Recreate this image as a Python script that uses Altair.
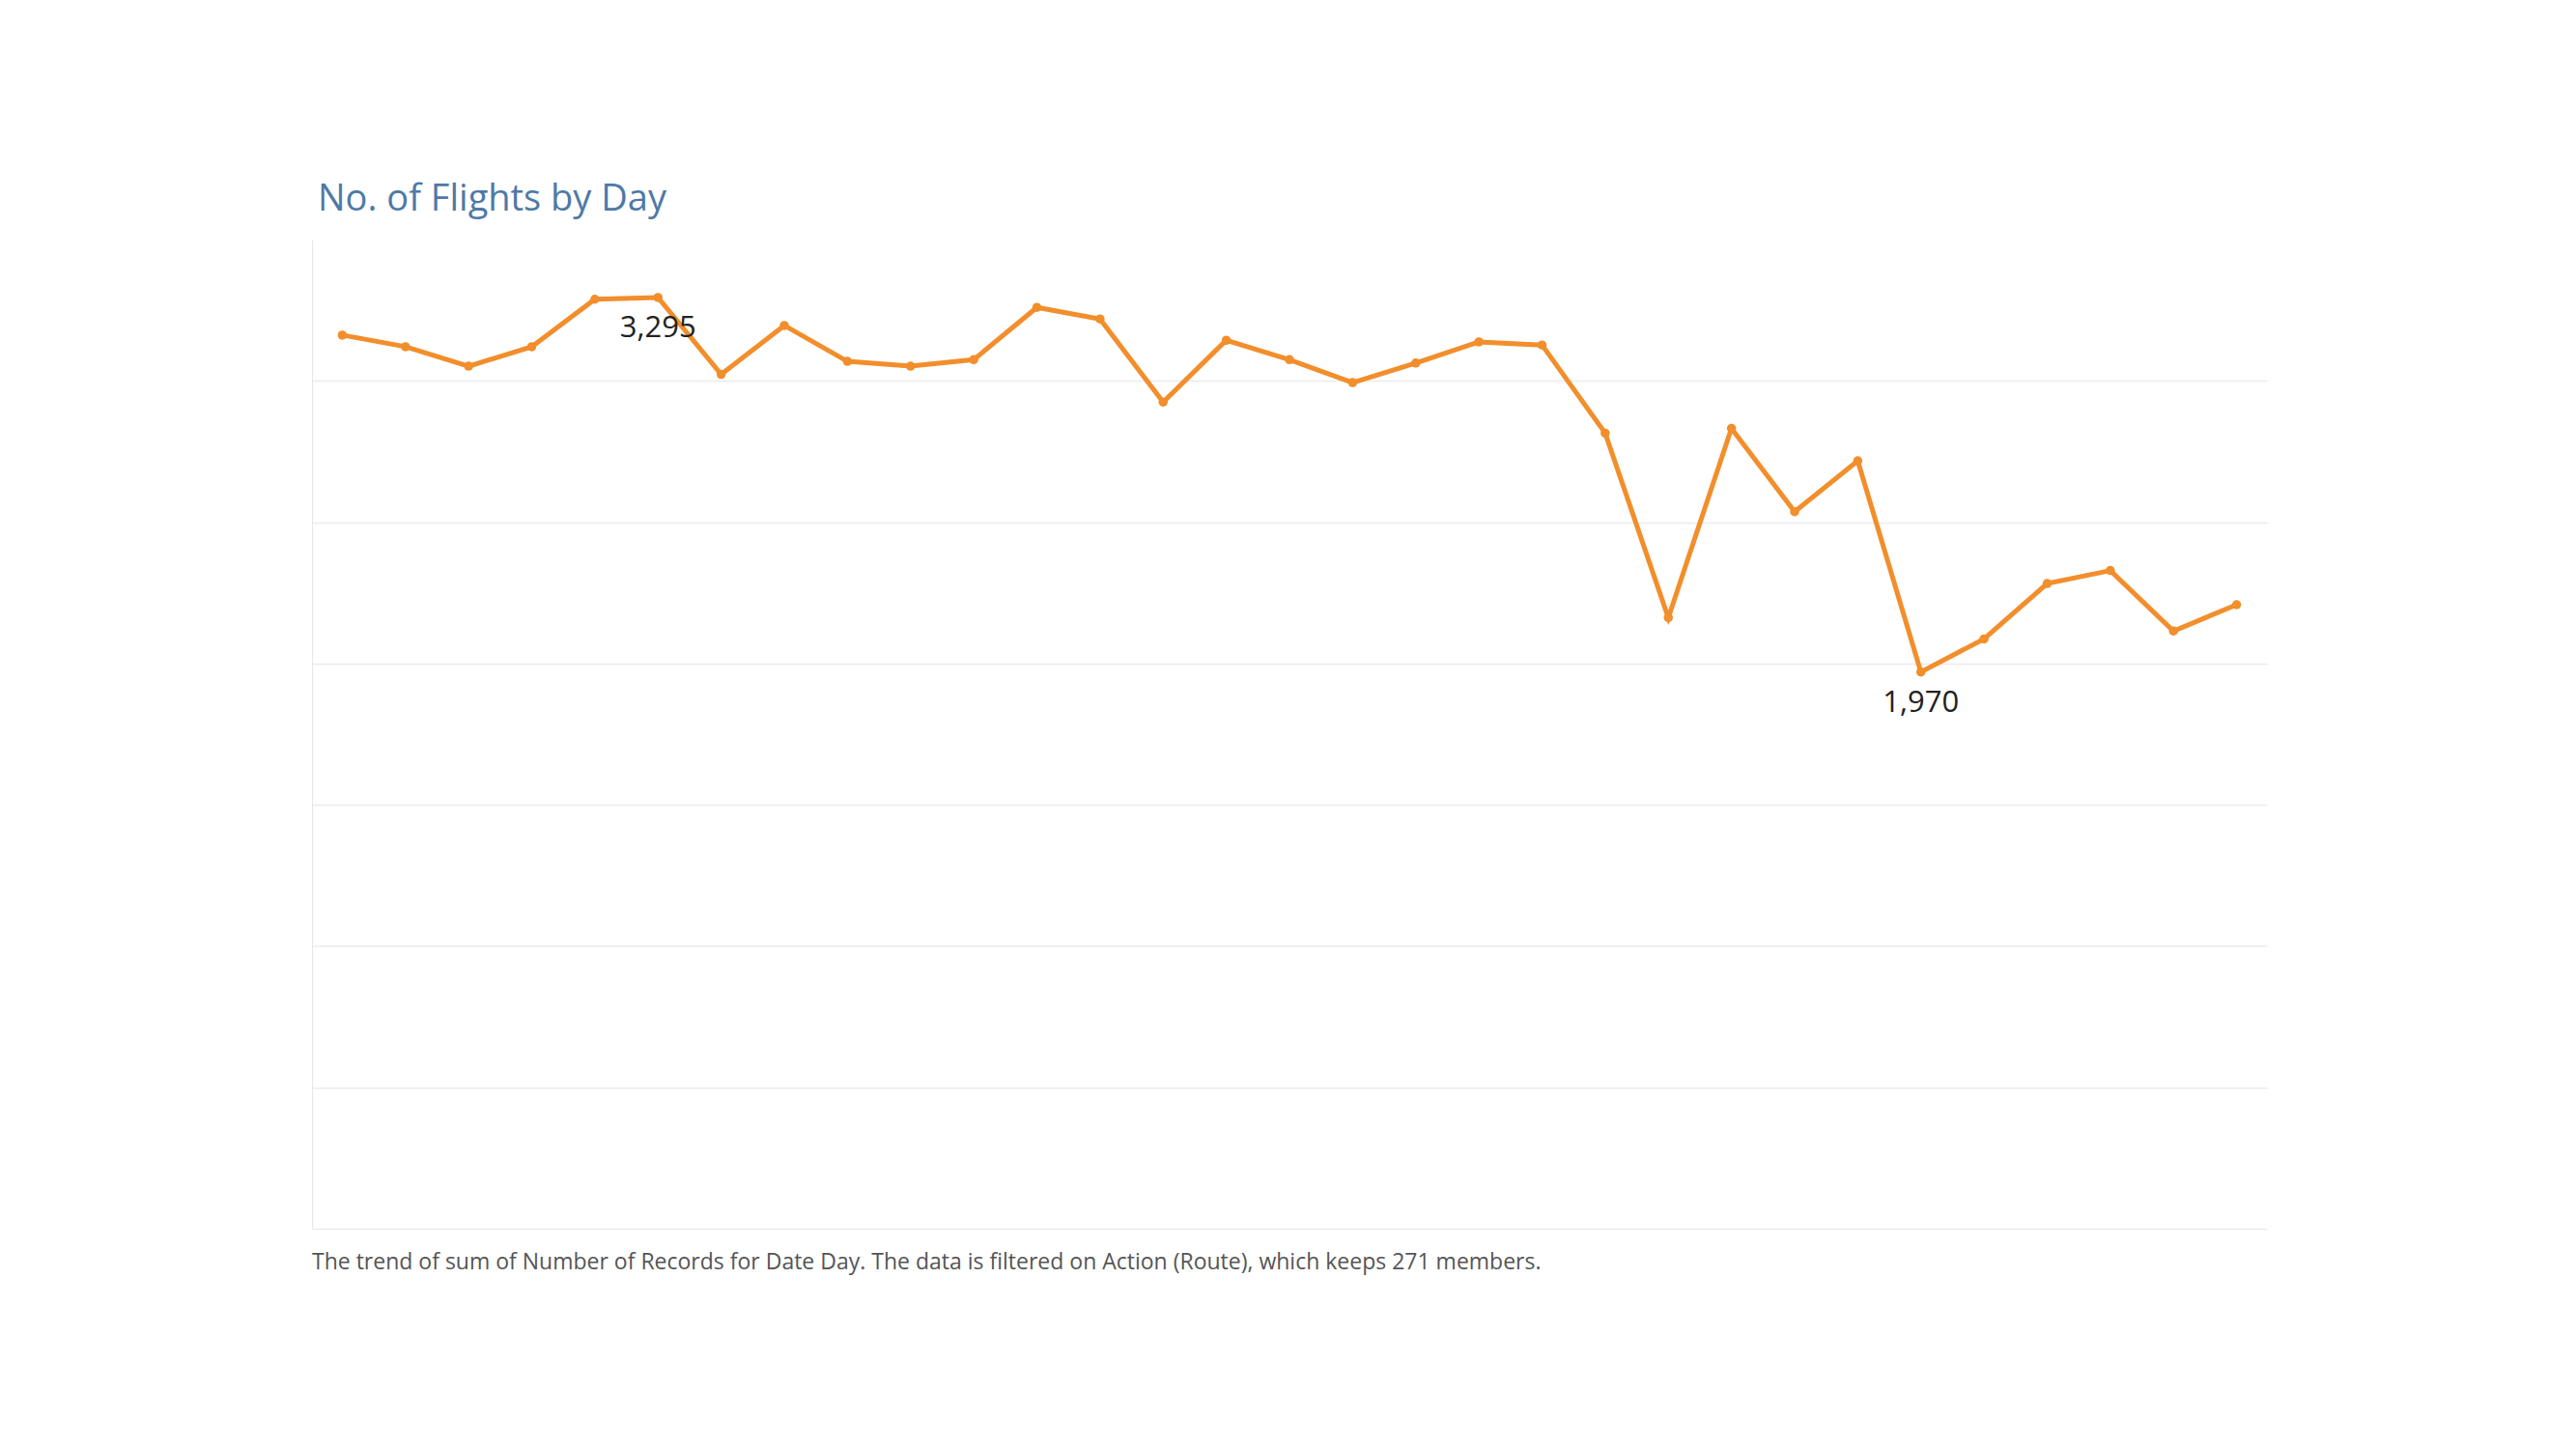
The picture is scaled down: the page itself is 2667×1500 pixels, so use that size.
import pandas as pd
import altair as alt

days = list(range(1, 32))
flights = [3162, 3121, 3052, 3121, 3289, 3295, 3023, 3196, 3069, 3052,
           3075, 3260, 3219, 2925, 3144, 3075, 2994, 3063, 3138, 3127,
           2815, 2162, 2832, 2537, 2717, 1970, 2087, 2283, 2329, 2115, 2208]

df = pd.DataFrame({"Day": days, "Flights": flights})

labels = pd.DataFrame({"Day": [6, 26], "Flights": [3295, 1970],
                       "Label": ["3,295", "1,970"], "dx": [0, 0]})

W, H = 2024, 1024

x = alt.X("Day:O", scale=alt.Scale(type="point", padding=0.48), axis=None)
y = alt.Y("Flights:Q", scale=alt.Scale(domain=[0, 3500], nice=False),
          axis=alt.Axis(values=[0, 500, 1000, 1500, 2000, 2500, 3000], labels=False,
                        ticks=False, title=None, domain=True, domainColor="#e6e6e6",
                        gridColor="#ebebeb", gridWidth=1.5))

line = alt.Chart(df).mark_line(color="#f28e2b", strokeWidth=5).encode(x=x, y=y)
pts = alt.Chart(df).mark_circle(color="#f28e2b", size=90, opacity=1).encode(x=x, y=y)
txt = alt.Chart(labels).mark_text(font="Open Sans", fontSize=31, color="#222222",
                                  dy=32).encode(x=x, y=y, text="Label:N")
caption = alt.Chart(pd.DataFrame({"t": ["The trend of sum of Number of Records for Date Day. The data is filtered on Action (Route), which keeps 271 members."]})).mark_text(
    font="Open Sans", fontSize=23, color="#555555", align="left", baseline="middle"
).encode(x=alt.value(0), y=alt.value(H + 35), text="t:N")

chart = alt.layer(line, pts, txt, caption).properties(
    width=W, height=H,
    padding={"left": 315, "top": 180, "right": 20, "bottom": 20},
    title=alt.TitleParams("No. of Flights by Day", anchor="start", fontSize=38,
                          font="Open Sans", fontWeight="normal", color="#4e79a7",
                          offset=22, dx=6),
).configure_view(stroke=None)

chart.save("out.html", embed_options={"renderer": "svg", "actions": False})
